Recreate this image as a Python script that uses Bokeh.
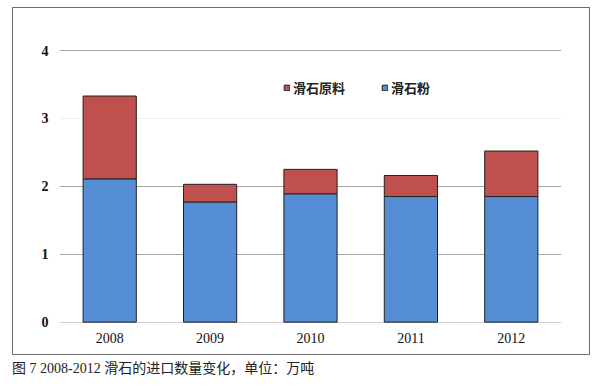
from bokeh.plotting import figure
from bokeh.models import ColumnDataSource, FixedTicker, Grid, Legend, Range1d, Div
from bokeh.layouts import column
from bokeh.embed import file_html
from bokeh.resources import INLINE

years = ["2008", "2009", "2010", "2011", "2012"]
talc_powder = [2.11, 1.77, 1.89, 1.85, 1.85]      # 滑石粉
talc_raw = [1.22, 0.26, 0.36, 0.31, 0.67]         # 滑石原料
y_ticks = [0, 1, 2, 3, 4]
caption = "图 7 2008-2012 滑石的进口数量变化，单位：万吨"

BLUE = "#558ED5"
RED = "#C0504D"

source = ColumnDataSource(dict(year=years, powder=talc_powder, raw=talc_raw))

W, H = 578, 348
p = figure(x_range=years, y_range=Range1d(-0.02, 4.03), width=W, height=H,
           output_backend="svg", toolbar_location=None,
           min_border_left=46, min_border_right=30, min_border_top=40, min_border_bottom=33,
           styles={"border": "1px solid #6e6e6e", "box-sizing": "border-box"})
p.margin = (7, 0, 0, 12)
p.outline_line_color = None
p.background_fill_color = "white"
p.border_fill_color = "white"
p.x_range.range_padding = 0

r = p.vbar_stack(["powder", "raw"], x="year", width=0.53, color=[BLUE, RED],
                 line_color="#222222", line_width=1, source=source)

# grids
p.xgrid.grid_line_color = None
p.ygrid.ticker = FixedTicker(ticks=[1, 2, 4])
p.ygrid.grid_line_color = "#a6a6a6"
p.ygrid.grid_line_width = 1
g0 = Grid(dimension=1, ticker=FixedTicker(ticks=[0]), grid_line_color="#d0d0d0")
g3 = Grid(dimension=1, ticker=FixedTicker(ticks=[3]), grid_line_color="#f0f0f0")
p.add_layout(g0)
p.add_layout(g3)
p.renderers = [g0, g3] + [x for x in p.renderers if x not in (g0, g3)]

# axes
p.yaxis.ticker = FixedTicker(ticks=y_ticks)
p.yaxis.axis_line_color = None
p.yaxis.major_tick_line_color = None
p.yaxis.minor_tick_line_color = None
p.yaxis.major_label_standoff = 5
p.yaxis.major_label_text_font = "Liberation Serif"
p.yaxis.major_label_text_font_style = "bold"
p.yaxis.major_label_text_font_size = "14px"
p.yaxis.major_label_text_color = "#111111"

p.xaxis.axis_line_color = None
p.xaxis.major_tick_line_color = None
p.xaxis.minor_tick_line_color = None
p.xaxis.major_label_standoff = 3
p.xaxis.major_label_text_font = "Liberation Serif"
p.xaxis.major_label_text_font_size = "14px"
p.xaxis.major_label_text_color = "#111111"

# legend
legend = Legend(items=[("滑石原料", [r[1]]), ("滑石粉", [r[0]])],
                orientation="horizontal", location=(224, 226),
                glyph_width=7, glyph_height=7, label_standoff=3, spacing=36,
                padding=0, margin=0, border_line_color=None,
                background_fill_alpha=0,
                label_text_font="Noto Sans CJK SC", label_text_font_style="bold",
                label_text_font_size="13px", label_text_color="#222222",
                label_height=14)
p.add_layout(legend)

cap = Div(text=caption, width=400, height=18, margin=(6, 0, 0, 12),
          styles={"font-family": "'Liberation Serif', 'Noto Sans CJK SC'", "font-size": "14px",
                  "line-height": "16px", "color": "#222222", "white-space": "nowrap"})

layout = column(p, cap, margin=0)
open("out.html", "w").write(file_html(layout, INLINE))
